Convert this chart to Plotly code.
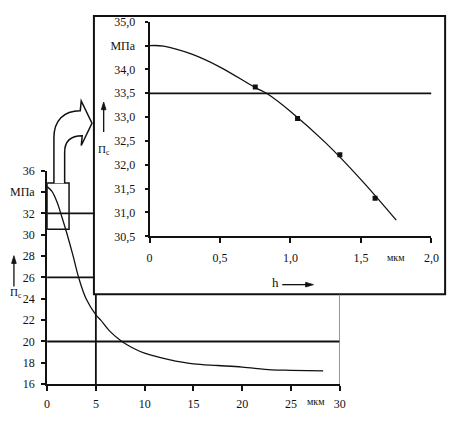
import plotly.graph_objects as go

# page is 458x426; the html body keeps an 8px margin, so the figure starts at (8, 8)
OFF = 8
W, H = 458 - OFF, 426 - OFF

# outer chart: П_с vs h (0..30 мкм)
outer_h = [0, 0.5, 1.0, 1.5, 2.0, 2.67, 3.23, 4.0, 5.0, 5.5, 6.5, 7.67, 9.0, 10, 12.5, 15, 17.5, 20, 23, 25, 28.3]
outer_p = [34.5, 34.05, 33.1, 31.7, 30.2, 28.0, 26.0, 24.0, 22.5, 22.0, 20.9, 20.0, 19.3, 18.9, 18.3, 17.9, 17.75, 17.6, 17.35, 17.3, 17.25]
outer_xticks = [0, 5, 10, 15, 20, 25, 30]
outer_xtext = ["0", "5", "10", "15", "20", "25", "30"]
outer_yticks = [16, 18, 20, 22, 24, 26, 28, 30, 32, 34, 36]
outer_ytext = ["16", "18", "20", "22", "24", "26", "28", "30", "32", "МПа", "36"]

# reference lines in the outer chart
hline_a_y, hline_a_x = [32, 32], [0, 4.8]
hline_b_y, hline_b_x = [26, 26], [0, 4.8]
hline_c_y, hline_c_x = [20, 20], [0, 30]
vline_a_x, vline_a_y = [5, 5], [16, 24.45]
vline_b_x, vline_b_y = [30, 30], [16, 24.45]
zoom_box_x = [0, 2.25]
zoom_box_y = [30.5, 34.85]

# inner (magnified) chart
inner_h = [0, 0.1, 0.3, 0.5, 0.75, 0.83, 1.0, 1.25, 1.5, 1.75]
inner_p = [34.5, 34.49, 34.32, 34.05, 33.62, 33.5, 33.12, 32.46, 31.69, 30.84]
meas_h = [0.75, 1.05, 1.35, 1.6]
meas_p = [33.63, 32.97, 32.21, 31.3]
inner_line_x, inner_line_y = [0, 2.0], [33.5, 33.5]
inner_xticks = [0, 0.5, 1.0, 1.5, 2.0]
inner_xtext = ["0", "0,5", "1,0", "1,5", "2,0"]
inner_yticks = [30.5, 31.0, 31.5, 32.0, 32.5, 33.0, 33.5, 34.0, 34.5, 35.0]
inner_ytext = ["30,5", "31,0", "31,5", "32,0", "32,5", "33,0", "33,5", "34,0", "МПа", "35,0"]


def px(x):
    # page pixel -> paper fraction
    return (x - OFF) / W


def py(y):
    return 1 - (y - OFF) / H


def page_path(s):
    # svg path written in page pixels -> paper coords
    out = []
    for t in s.split():
        if "," in t:
            a, b = t.split(",")
            out.append(f"{px(float(a)):.5f},{py(float(b)):.5f}")
        else:
            out.append(t)
    return " ".join(out)


FONT = dict(family="Liberation Serif", size=12, color="#111")
INK = "#111"

fig = go.Figure()

# ---- outer chart traces ----
fig.add_trace(go.Scatter(x=outer_h, y=outer_p, mode="lines", line=dict(color=INK, width=1.3, shape="spline"),
                         xaxis="x", yaxis="y"))
for xs, ys in [(hline_a_x, hline_a_y), (hline_b_x, hline_b_y), (hline_c_x, hline_c_y),
               (vline_a_x, vline_a_y)]:
    fig.add_trace(go.Scatter(x=xs, y=ys, mode="lines", line=dict(color=INK, width=1.8), xaxis="x", yaxis="y"))
fig.add_trace(go.Scatter(x=vline_b_x, y=vline_b_y, mode="lines", line=dict(color="#666", width=1.3),
                         xaxis="x", yaxis="y"))

# ---- inner chart traces ----
fig.add_trace(go.Scatter(x=inner_line_x, y=inner_line_y, mode="lines", line=dict(color=INK, width=1.8),
                         xaxis="x2", yaxis="y2"))
fig.add_trace(go.Scatter(x=inner_h, y=inner_p, mode="lines", line=dict(color=INK, width=1.3, shape="spline"),
                         xaxis="x2", yaxis="y2"))
fig.add_trace(go.Scatter(x=meas_h, y=meas_p, mode="markers", marker=dict(symbol="square", size=5, color=INK),
                         xaxis="x2", yaxis="y2"))

# inner box frame (white, under the inner traces)
fig.add_shape(type="rect", xref="paper", yref="paper", x0=px(93), x1=px(453), y0=py(297), y1=py(9),
              line=dict(color=INK, width=2), fillcolor="white", layer="below")
# zoom rectangle on outer chart
fig.add_shape(type="rect", xref="x", yref="y", x0=zoom_box_x[0], x1=zoom_box_x[1],
              y0=zoom_box_y[0], y1=zoom_box_y[1], line=dict(color=INK, width=1.5))

# curved hollow arrow from zoom box to inner chart
fig.add_shape(type="path", xref="paper", yref="paper",
              path=page_path("M 52,182 L 52,135 C 52,117 62,107 79,107 L 80,97 L 91,120 L 80,143 "
                             "L 81,133 C 70,133 63,138 63,150 L 63,182"),
              line=dict(color=INK, width=1.5), fillcolor="white")

# small axis-direction arrows (vertical ones next to П_с, horizontal one after h)
for shaft, head in [("M 11,289 L 11,263", "M 11,257 L 8.6,265 L 13.4,265 Z"),
                    ("M 103,129 L 103,104", "M 103,98 L 100.6,106 L 105.4,106 Z"),
                    ("M 286,287 L 312,287", "M 318,287 L 310,284.6 L 310,289.4 Z")]:
    fig.add_shape(type="path", xref="paper", yref="paper", path=page_path(shaft),
                  line=dict(color=INK, width=1.3))
    fig.add_shape(type="path", xref="paper", yref="paper", path=page_path(head),
                  line=dict(color=INK, width=0.8), fillcolor=INK)

# ---- annotations ----
ann = []
for lab_x, lab_y in [(20, 304), (111, 148)]:
    ann.append(dict(x=px(lab_x), y=py(lab_y), xref="paper", yref="paper", text="П<sub>с</sub>",
                    xanchor="right", borderpad=0,
                    showarrow=False, font=dict(family="Liberation Serif", size=11, color=INK)))
ann.append(dict(x=px(279), y=py(285), xref="paper", yref="paper", text="h", showarrow=False,
                font=dict(family="Liberation Serif", size=13, color=INK)))
# unit labels
ann.append(dict(x=1.75, y=30.5, xref="x2", yref="y2", yshift=-21, text="мкм", showarrow=False,
                font=dict(family="Liberation Serif", size=10, color=INK)))
ann.append(dict(x=27.6, y=16, xref="x", yref="y", yshift=-17, text="мкм", showarrow=False,
                font=dict(family="Liberation Serif", size=10, color=INK)))

axis_common = dict(showgrid=False, zeroline=False, showline=True, linecolor=INK, linewidth=2,
                   ticks="outside", tickcolor=INK, tickwidth=1.5, tickfont=FONT, tickmode="array")

fig.update_layout(
    width=W, height=H,
    margin=dict(l=0, r=0, t=0, b=0),
    showlegend=False,
    paper_bgcolor="white",
    plot_bgcolor="rgba(0,0,0,0)",
    xaxis=dict(axis_common, domain=[px(45), px(345)], range=[0, 30], anchor="y",
               tickvals=outer_xticks, ticktext=outer_xtext, ticklen=5, ticklabelstandoff=2),
    yaxis=dict(axis_common, domain=[py(390), py(169)], range=[16, 36], anchor="x",
               tickvals=outer_yticks, ticktext=outer_ytext, ticklen=4, ticklabelstandoff=4),
    xaxis2=dict(axis_common, domain=[px(150), px(439)], range=[0, 2], anchor="y2",
                tickvals=inner_xticks, ticktext=inner_xtext, ticklen=5, ticklabelstandoff=4),
    yaxis2=dict(axis_common, domain=[py(237), py(15)], range=[30.5, 35.0], anchor="x2",
                tickvals=inner_yticks, ticktext=inner_ytext, ticklen=3, ticklabelstandoff=7),
    annotations=ann,
)

fig.write_html("out.html")
